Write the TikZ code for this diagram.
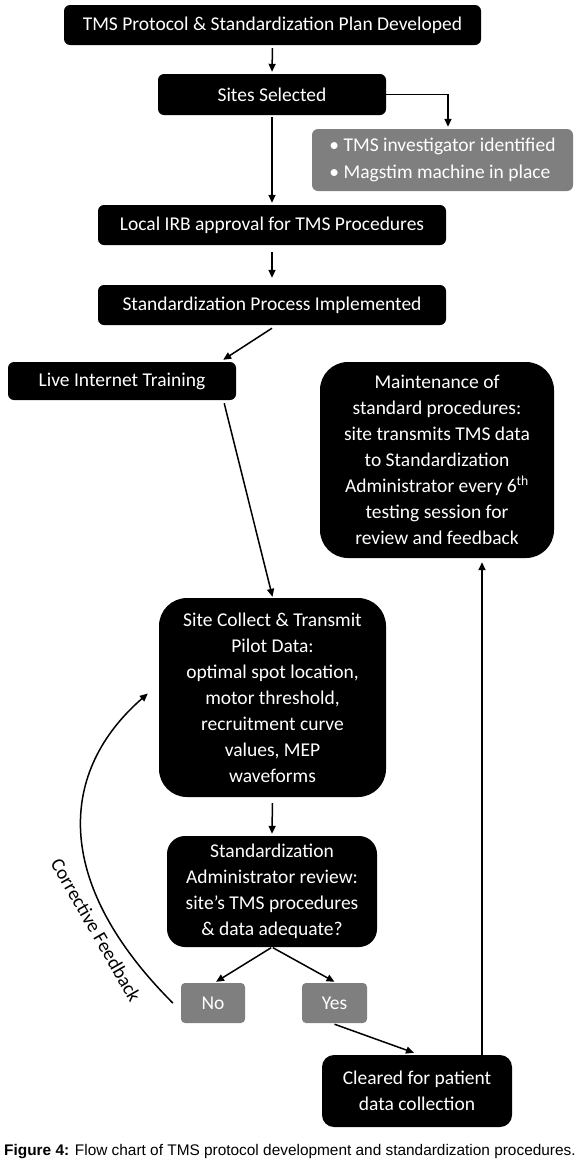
\documentclass[tikz,border=0pt]{standalone}
\usepackage{fontspec}
\setmainfont{Carlito}
\newfontfamily\capfont{Liberation Sans}
\usetikzlibrary{arrows.meta,calc}
\definecolor{boxgray}{HTML}{7F7F7F}
\begin{document}
\begin{tikzpicture}[x=1pt,y=1pt,
  box/.style={fill=black, text=white, rounded corners=6pt, inner sep=0pt, align=center,
    font=\fontsize{19.5}{26}\selectfont},
  graybox/.style={box, fill=boxgray},
  arr/.style={line width=1.5pt, -{Triangle[length=8pt,width=7pt]}},
  lbl/.style={font=\fontsize{19.5}{26}\selectfont},
]
\fill[white] (0,0) rectangle (580,-1170);
\useasboundingbox (0,0) rectangle (580,-1170);

\node[box, minimum width=417pt, minimum height=40pt] (top) at (272.5,-25)
  {TMS Protocol \& Standardization Plan Developed};
\node[box, minimum width=228pt, minimum height=41pt] (sites) at (272,-94.5)
  {Sites Selected};
\node[graybox, minimum width=261pt, minimum height=62pt, align=left, font=\fontsize{19.5}{27}\selectfont] (gray) at (442.5,-160)
  {\textbullet\ TMS investigator identified\\\textbullet\ Magstim machine in place};
\node[box, minimum width=348pt, minimum height=40pt] (irb) at (272,-225)
  {Local IRB approval for TMS Procedures};
\node[box, minimum width=348pt, minimum height=40pt] (std) at (272,-305)
  {Standardization Process Implemented};
\node[box, minimum width=228pt, minimum height=38pt] (live) at (122,-381)
  {Live Internet Training};
\node[box, rounded corners=28pt, minimum width=234pt, minimum height=196pt] (maint) at (437,-460)
  {Maintenance of\\standard procedures:\\site transmits TMS data\\to Standardization\\Administrator every 6\textsuperscript{th}\\testing session for\\review and feedback};
\node[box, rounded corners=28pt, minimum width=227pt, minimum height=199pt] (site) at (272.5,-697.5)
  {Site Collect \& Transmit\\Pilot Data:\\optimal spot location,\\motor threshold,\\recruitment curve\\values, MEP\\waveforms};
\node[box, rounded corners=18pt, minimum width=210pt, minimum height=111pt] (admin) at (272,-891.5)
  {Standardization\\Administrator review:\\site’s TMS procedures\\\& data adequate?};
\node[graybox, rounded corners=4pt, minimum width=64pt, minimum height=40pt] (no) at (213,-1003) {No};
\node[graybox, rounded corners=4pt, minimum width=65pt, minimum height=40pt] (yes) at (334.5,-1003) {Yes};
\node[box, rounded corners=12pt, minimum width=190pt, minimum height=72pt] (cleared) at (417,-1091)
  {Cleared for patient\\data collection};

\node[anchor=west, inner sep=0pt, font=\capfont\fontsize{15.4}{18}\selectfont] (cap) at (4,-1152)
  {\textbf{Figure 4:} Flow chart of TMS protocol development and standardization procedures.};

\draw[arr, shorten <=3pt, shorten >=2pt] (top.south) -- (sites.north);
\draw[arr] (sites.east) -| ([xshift=5.5pt,yshift=2pt]gray.north);
\draw[arr, shorten <=2pt, shorten >=2pt] (sites.south) -- (irb.north);
\draw[arr, shorten <=7pt, shorten >=7pt] (irb.south) -- (std.north);
\draw[arr] ([yshift=-3pt]std.south) -- ([xshift=-13pt,yshift=2pt]live.north east);
\draw[arr] ([xshift=-12pt,yshift=-3pt]live.south east) -- ([yshift=1pt]site.north);
\draw[arr, shorten <=6pt, shorten >=2pt] (site.south) -- (admin.north);
\draw[arr, shorten <=1pt] (admin.south) -- ([xshift=3pt,yshift=1pt]no.north);
\draw[arr, shorten <=1pt] (admin.south) -- ([yshift=1pt]yes.north);
\draw[arr] ([yshift=-1pt]yes.south) -- ([xshift=-3pt,yshift=2pt]cleared.north);
\coordinate (up0) at ([xshift=65pt]cleared.north);
\draw[arr] (up0) -- ([yshift=-4pt]up0 |- maint.south);
\draw[arr] ([xshift=-8pt]no.west) .. controls (50,-880) and (60,-770) .. ([xshift=-11pt,yshift=4pt]site.west);
\node[lbl, rotate=-60] (cf) at (96,-930) {Corrective Feedback};
\end{tikzpicture}
\end{document}
